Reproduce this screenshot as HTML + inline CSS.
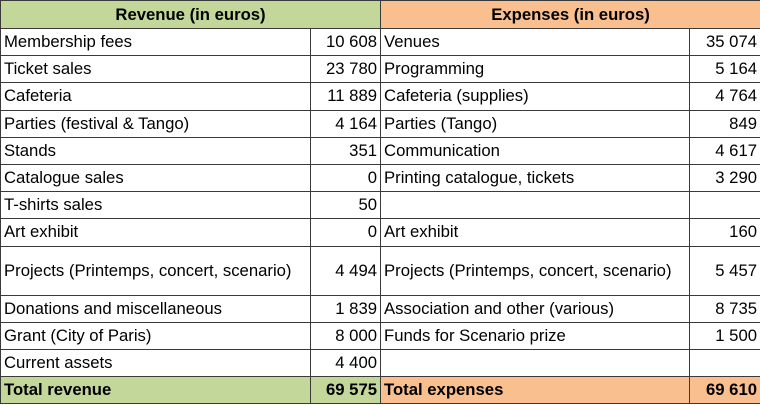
<!DOCTYPE html>
<html><head><style>
body{margin:0;width:760px;height:405px;background:#fff;overflow:hidden}
table{border-collapse:collapse;position:absolute;left:0;top:0;width:760px;font-family:"Liberation Sans",Arial,sans-serif;font-size:16.7px;color:#000;table-layout:fixed}
td{border:1px solid #3a3a3a;padding:0 3px;height:26.2px;white-space:nowrap;overflow:hidden}
td.n{text-align:right}
.g{background:#c4d79b;font-weight:bold}
.o{background:#fabf8f;font-weight:bold}
.h td{text-align:center;height:27px}
</style></head><body>
<table>
<colgroup><col style="width:310px"><col style="width:70px"><col style="width:309px"><col style="width:71px"></colgroup>
<tr class="h"><td class="g" colspan="2">Revenue (in euros)</td><td class="o" colspan="2">Expenses (in euros)</td></tr>
<tr><td>Membership fees</td><td class="n">10 608</td><td>Venues</td><td class="n">35 074</td></tr>
<tr><td>Ticket sales</td><td class="n">23 780</td><td>Programming</td><td class="n">5 164</td></tr>
<tr><td>Cafeteria</td><td class="n">11 889</td><td>Cafeteria (supplies)</td><td class="n">4 764</td></tr>
<tr><td>Parties (festival &amp; Tango)</td><td class="n">4 164</td><td>Parties (Tango)</td><td class="n">849</td></tr>
<tr><td>Stands</td><td class="n">351</td><td>Communication</td><td class="n">4 617</td></tr>
<tr><td>Catalogue sales</td><td class="n">0</td><td>Printing catalogue, tickets</td><td class="n">3 290</td></tr>
<tr><td>T-shirts sales</td><td class="n">50</td><td></td><td></td></tr>
<tr><td>Art exhibit</td><td class="n">0</td><td>Art exhibit</td><td class="n">160</td></tr>
<tr><td style="height:48px">Projects (Printemps, concert, scenario)</td><td class="n">4 494</td><td>Projects (Printemps, concert, scenario)</td><td class="n">5 457</td></tr>
<tr><td>Donations and miscellaneous</td><td class="n">1 839</td><td>Association and other (various)</td><td class="n">8 735</td></tr>
<tr><td>Grant (City of Paris)</td><td class="n">8 000</td><td>Funds for Scenario prize</td><td class="n">1 500</td></tr>
<tr><td>Current assets</td><td class="n">4 400</td><td></td><td></td></tr>
<tr><td class="g">Total revenue</td><td class="g n">69 575</td><td class="o">Total expenses</td><td class="o n">69 610</td></tr>
</table>
</body></html>
